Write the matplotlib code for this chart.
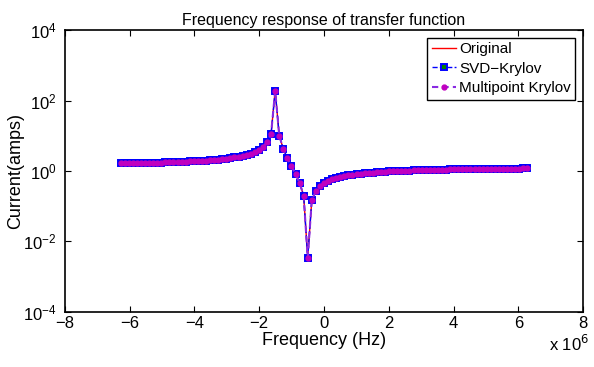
import numpy as np
import matplotlib
matplotlib.use("Agg")
import matplotlib.pyplot as plt
from matplotlib.ticker import FuncFormatter, FixedLocator

plt.rcParams['font.family'] = ['Liberation Sans', 'DejaVu Sans']

# sampling grid (Hz)
freq_start = -6.2832e6
freq_stop = 6.2832e6
n_points = 101
freq = np.linspace(freq_start, freq_stop, n_points)

# |H| (amps), same for all three curves
current = [
    1.632, 1.640, 1.648, 1.656, 1.665, 1.675, 1.685, 1.696, 1.707, 1.720,
    1.733, 1.747, 1.762, 1.779, 1.796, 1.816, 1.837, 1.860, 1.885, 1.914,
    1.945, 1.980, 2.019, 2.063, 2.114, 2.172, 2.241, 2.321, 2.418, 2.535,
    2.682, 2.871, 3.122, 3.472, 3.994, 4.856, 6.556, 11.45, 190.0, 10.12,
    4.196, 2.309, 1.379, 0.826, 0.460, 0.199, 0.0034, 0.148, 0.269, 0.368,
    0.450, 0.520, 0.579, 0.631, 0.676, 0.716, 0.751, 0.783, 0.811, 0.837,
    0.860, 0.882, 0.901, 0.919, 0.936, 0.951, 0.965, 0.979, 0.991, 1.003,
    1.014, 1.024, 1.033, 1.042, 1.051, 1.059, 1.067, 1.074, 1.081, 1.088,
    1.094, 1.100, 1.105, 1.111, 1.116, 1.121, 1.126, 1.130, 1.135, 1.139,
    1.143, 1.147, 1.151, 1.154, 1.158, 1.161, 1.165, 1.168, 1.171, 1.174,
    1.177,
]
original = current
svd_krylov = current
multipoint = current

xticks = [-8e6, -6e6, -4e6, -2e6, 0, 2e6, 4e6, 6e6, 8e6]
yticks = [1e-4, 1e-2, 1e0, 1e2, 1e4]

fig = plt.figure(figsize=(5.94, 3.67), dpi=100)
ax = fig.add_axes([0.1094, 0.1507, 0.8721, 0.767])

ax.plot(freq, original, color='red', lw=1.0, label='Original')
ax.plot(freq, svd_krylov, color='blue', ls='--', lw=1.0, marker='s', ms=5.0,
        mfc='green', mec='blue', mew=1.4, label='SVD\u2212Krylov')
ax.plot(freq, multipoint, color='#8a2be2', ls='--', lw=1.5, dashes=(3, 2), marker='o',
        ms=3.5, mfc='#c000c0', mec='#c000c0', label='Multipoint Krylov')

ax.set_yscale('log')
ax.set_xlim(-8e6, 8e6)
ax.set_ylim(1e-4, 1e4)
ax.xaxis.set_major_locator(FixedLocator(xticks))
ax.yaxis.set_major_locator(FixedLocator(yticks))
ax.yaxis.set_minor_locator(FixedLocator([]))
ax.xaxis.set_major_formatter(FuncFormatter(lambda v, p: '%d' % round(v / 1e6) if v >= 0 else '\u2212%d' % round(-v / 1e6)))
ax.tick_params(direction='in', top=True, right=True, length=4, width=0.8, labelsize=12)
ax.tick_params(axis='y', pad=6)
ax.tick_params(axis='x', pad=3)
for s in ax.spines.values():
    s.set_linewidth(1.2)

ax.set_xlabel('Frequency (Hz)', fontsize=13, labelpad=1)
ax.set_ylabel('Current(amps)', fontsize=13, labelpad=-1)
ax.set_title('Frequency response of transfer function', fontsize=11.5, pad=4)
fig.text(0.958, 0.035, 'x 10$^{6}$', fontsize=12, ha='center', va='bottom')

leg = ax.legend(loc='upper right', fontsize=11, fancybox=False, edgecolor='black',
                framealpha=1, handlelength=1.6, handletextpad=0.2, borderpad=0.3,
                labelspacing=0.35, borderaxespad=0.5)
leg.get_frame().set_linewidth(1.0)

fig.savefig('out.png', dpi=100)
